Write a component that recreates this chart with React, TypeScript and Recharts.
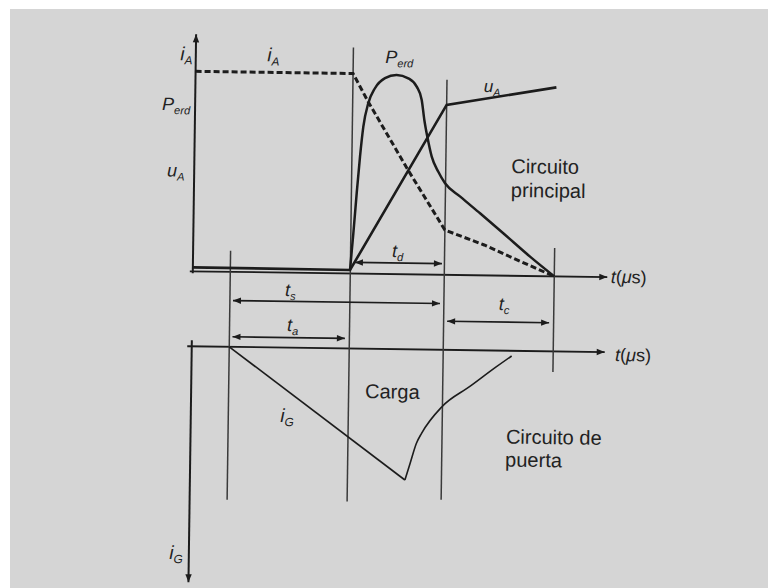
import React from "react";
import {
  LineChart,
  Line,
  XAxis,
  YAxis,
  ReferenceLine,
  ReferenceDot,
} from "recharts";

// time axis in μs, 0 = vertical axis
const eventTimes = [3.75, 15.75, 25.15, 36.15]; // gate pulse, end of storage, end of fall, end of tail

// main circuit (upper panel, arbitrary units, 0..100)
const anodeCurrentT = [0, 15.75, 17.3, 21.4, 25.15, 29.1, 32.4, 36.15];
const anodeCurrent = [100, 100, 86, 52, 22.4, 15.2, 8, 0];

const lossT = [
  15.72, 16.0, 16.28, 16.56, 16.85, 17.31, 17.96, 18.95, 20.11, 21.28, 22.13,
  22.65, 22.94, 23.26, 23.73, 24.41, 25.1, 26.64, 28.67, 30.99, 33.7, 36.15,
];
const lossP = [
  1.75, 20.1, 40.2, 58.5, 73.5, 85.2, 92.8, 97.9, 99.6, 98, 93.9, 87.3, 77.3,
  69, 59, 51.5, 45.8, 39.2, 30.9, 21.2, 9.7, 0,
];

const anodeVoltageT = [0, 15.72, 25.15, 36.1];
const anodeVoltage = [2, 1.75, 85, 94.5];

// gate circuit (lower panel, drawn downwards)
const gateRampT = [3.75, 21.5];
const gateRamp = [0, 130.7];
const gateRecoveryT = [21.5, 22.0, 22.6, 23.1, 25.1, 27.9, 30.5, 32.0];
const gateRecovery = [130.7, 113.9, 93.8, 83.8, 56.9, 36, 16.1, 5.2];

const zip = (ts: number[], vs: number[]) => ts.map((t, i) => ({ t, v: vs[i] }));

const INK = "#1c1c1c";
const FONT = "'Liberation Sans', Arial, sans-serif";

// marker line extents on the main scale
const markerSpans: [number, number][] = [
  [10.5, -114],
  [113, -114],
  [97.5, -112.5],
  [14.2, -47.8],
];

// dimension arrows between the event markers, on the main scale
const spans: { from: number; to: number; y: number; both: boolean }[] = [
  { from: 16.2, to: 24.9, y: 5.6, both: true },
  { from: 4.06, to: 24.76, y: -14.35, both: true },
  { from: 4.06, to: 15.3, y: -32.45, both: true },
  { from: 25.5, to: 35.7, y: -23.2, both: true },
];

type Lbl = {
  x: number;
  y: number;
  axis: "main" | "gate";
  text: string;
  sub?: string;
  italic?: boolean;
  size: number;
  tail?: boolean;
};

const labels: Lbl[] = [
  { x: -1.55, y: 105.5, axis: "main", text: "i", sub: "A", italic: true, size: 19 },
  { x: 7.15, y: 105.5, axis: "main", text: "i", sub: "A", italic: true, size: 19 },
  { x: -3.3, y: 80.5, axis: "main", text: "P", sub: "erd", italic: true, size: 18 },
  { x: -2.7, y: 47.25, axis: "main", text: "u", sub: "A", italic: true, size: 18 },
  { x: 18.95, y: 105.5, axis: "main", text: "P", sub: "erd", italic: true, size: 18 },
  { x: 28.85, y: 91.7, axis: "main", text: "u", sub: "A", italic: true, size: 17 },
  { x: 31.7, y: 51.35, axis: "main", text: "Circuito", size: 20 },
  { x: 31.7, y: 39.4, axis: "main", text: "principal", size: 20 },
  { x: 19.9, y: 8.55, axis: "main", text: "t", sub: "d", italic: true, size: 18 },
  { x: 9.25, y: -11.7, axis: "main", text: "t", sub: "s", italic: true, size: 18 },
  { x: 9.5, y: -29.15, axis: "main", text: "t", sub: "a", italic: true, size: 18 },
  { x: 30.65, y: -17.2, axis: "main", text: "t", sub: "c", italic: true, size: 18 },
  { x: 41.8, y: -2.9, axis: "main", text: "t", tail: true, italic: true, size: 18 },
  { x: 42.35, y: 8.8, axis: "gate", text: "t", tail: true, italic: true, size: 18 },
  { x: 17.4, y: 49.3, axis: "gate", text: "Carga", size: 20 },
  { x: 31.55, y: 92.8, axis: "gate", text: "Circuito de", size: 20 },
  { x: 31.5, y: 115.8, axis: "gate", text: "puerta", size: 20 },
  { x: 8.95, y: 74.5, axis: "gate", text: "i", sub: "G", italic: true, size: 19 },
  { x: -1.95, y: 213, axis: "gate", text: "i", sub: "G", italic: true, size: 19 },
];

function head(x: number, y: number, a: number) {
  const L = 8;
  const W = 3.2;
  const bx = x - L * Math.cos(a);
  const by = y - L * Math.sin(a);
  const nx = -Math.sin(a) * W;
  const ny = Math.cos(a) * W;
  return `${x},${y} ${bx + nx},${by + ny} ${bx - nx},${by - ny}`;
}

function arrowShape(both: boolean, width: number) {
  return (p: any) => {
    const { x1, y1, x2, y2 } = p;
    const a = Math.atan2(y2 - y1, x2 - x1);
    return (
      <g>
        <line x1={x1} y1={y1} x2={x2} y2={y2} stroke={INK} strokeWidth={width} />
        <polygon points={head(x2, y2, a)} fill={INK} />
        {both && <polygon points={head(x1, y1, a + Math.PI)} fill={INK} />}
      </g>
    );
  };
}

function labelShape(l: Lbl) {
  return (p: any) => (
    <text x={p.cx} y={p.cy} fill="#222" fontFamily={FONT} fontSize={l.size}>
      <tspan fontStyle={l.italic ? "italic" : "normal"}>{l.text}</tspan>
      {l.sub && (
        <tspan dy={4} fontSize={l.size * 0.62} fontStyle="italic">
          {l.sub}
        </tspan>
      )}
      {l.tail && (
        <>
          <tspan fontStyle="normal">(</tspan>
          <tspan fontStyle="italic">μ</tspan>
          <tspan fontStyle="normal">s)</tspan>
        </>
      )}
    </text>
  );
}

export default function App() {
  return (
    <div
      style={{
        position: "fixed",
        left: 0,
        top: 0,
        width: 768,
        height: 588,
        background: "#fff",
        overflow: "hidden",
      }}
    >
      <div
        style={{
          position: "absolute",
          left: 10,
          top: 9,
          right: 0,
          bottom: 0,
          background: "#d5d5d5",
        }}
      />
      <div
        style={{
          position: "absolute",
          left: 0,
          top: 0,
          transform: "rotate(0.8deg)",
          transformOrigin: "384px 294px",
        }}
      >
        <LineChart width={768} height={588} margin={{ top: 0, right: 0, bottom: 0, left: 0 }}>
          <XAxis type="number" dataKey="t" domain={[-19.25, 57.55]} allowDataOverflow hide />
          <YAxis yAxisId="main" type="number" domain={[-157, 137]} allowDataOverflow hide />
          <YAxis yAxisId="gate" type="number" domain={[-349, 239]} allowDataOverflow reversed hide />

          {/* axes */}
          <ReferenceLine
            yAxisId="main"
            segment={[{ x: 0, y: -1 }, { x: 0, y: 118.5 }]}
            ifOverflow="visible"
            shape={arrowShape(false, 2)}
          />
          <ReferenceLine
            yAxisId="main"
            segment={[{ x: -0.3, y: 0 }, { x: 41.45, y: 0 }]}
            ifOverflow="visible"
            shape={arrowShape(false, 1.8)}
          />
          <ReferenceLine
            yAxisId="gate"
            segment={[{ x: -0.45, y: 0 }, { x: 41.3, y: 0 }]}
            ifOverflow="visible"
            shape={arrowShape(false, 1.8)}
          />
          <ReferenceLine
            yAxisId="gate"
            segment={[{ x: 0, y: -6 }, { x: 0, y: 236 }]}
            ifOverflow="visible"
            shape={arrowShape(false, 2)}
          />

          {/* event markers */}
          {eventTimes.map((t, i) => (
            <ReferenceLine
              key={`m${i}`}
              yAxisId="main"
              segment={[{ x: t, y: markerSpans[i][0] }, { x: t, y: markerSpans[i][1] }]}
              ifOverflow="visible"
              stroke="#3a3a3a"
              strokeWidth={1.5}
            />
          ))}

          {/* time intervals */}
          {spans.map((s, i) => (
            <ReferenceLine
              key={`s${i}`}
              yAxisId="main"
              segment={[{ x: s.from, y: s.y }, { x: s.to, y: s.y }]}
              ifOverflow="visible"
              shape={arrowShape(s.both, 1.6)}
            />
          ))}

          <Line
            yAxisId="main"
            data={zip(anodeCurrentT, anodeCurrent)}
            dataKey="v"
            type="linear"
            stroke={INK}
            strokeWidth={3}
            strokeDasharray="6 3"
            dot={false}
            activeDot={false}
            isAnimationActive={false}
          />
          <Line
            yAxisId="main"
            data={zip(lossT, lossP)}
            dataKey="v"
            type="monotone"
            stroke={INK}
            strokeWidth={2.5}
            dot={false}
            activeDot={false}
            isAnimationActive={false}
          />
          <Line
            yAxisId="main"
            data={zip(anodeVoltageT, anodeVoltage)}
            dataKey="v"
            type="linear"
            stroke={INK}
            strokeWidth={2.6}
            dot={false}
            activeDot={false}
            isAnimationActive={false}
          />
          <Line
            yAxisId="gate"
            data={zip(gateRampT, gateRamp)}
            dataKey="v"
            type="linear"
            stroke={INK}
            strokeWidth={1.6}
            dot={false}
            activeDot={false}
            isAnimationActive={false}
          />
          <Line
            yAxisId="gate"
            data={zip(gateRecoveryT, gateRecovery)}
            dataKey="v"
            type="monotone"
            stroke={INK}
            strokeWidth={1.6}
            dot={false}
            activeDot={false}
            isAnimationActive={false}
          />

          {labels.map((l, i) => (
            <ReferenceDot
              key={`l${i}`}
              yAxisId={l.axis}
              x={l.x}
              y={l.y}
              ifOverflow="visible"
              shape={labelShape(l)}
            />
          ))}
        </LineChart>
      </div>
    </div>
  );
}
